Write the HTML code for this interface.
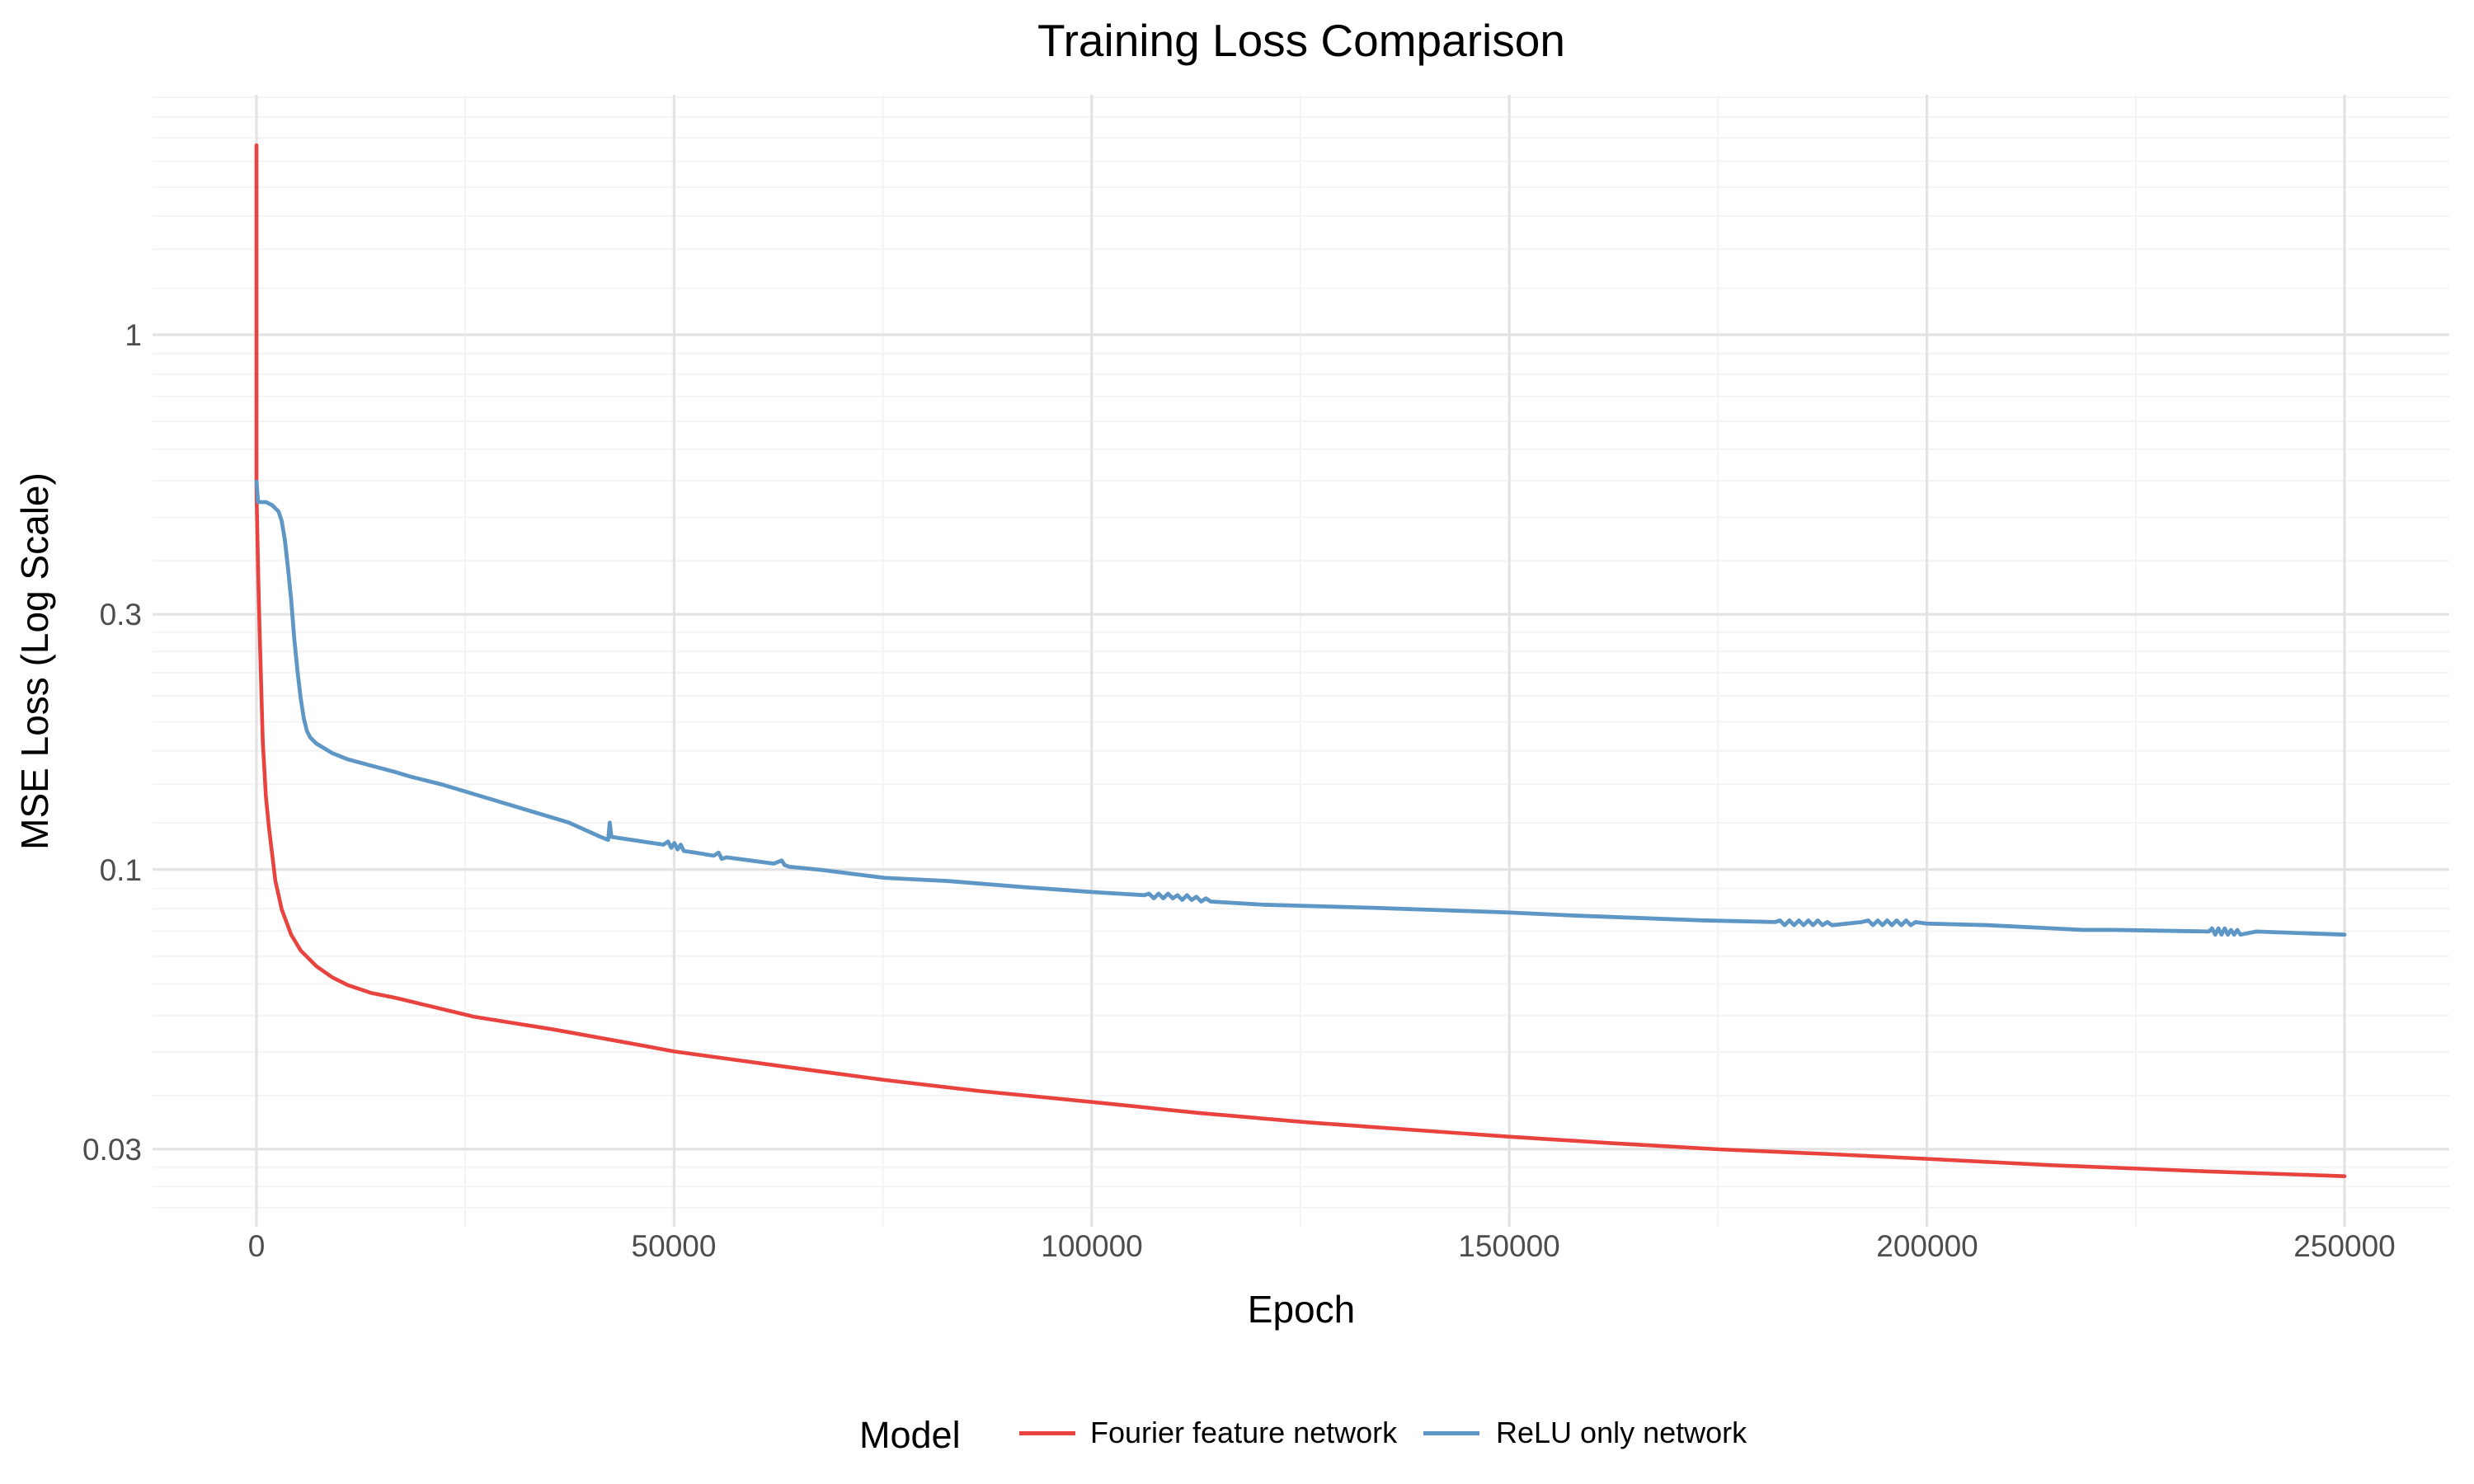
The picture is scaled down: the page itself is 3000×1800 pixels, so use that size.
<!DOCTYPE html>
<html><head><meta charset="utf-8"><style>
html,body{margin:0;padding:0;background:#fff;}
svg{display:block;font-family:"Liberation Sans",sans-serif;}
</style></head><body>
<svg id="s" width="3000" height="1800" viewBox="0 0 3000 1800" xmlns="http://www.w3.org/2000/svg">
<rect width="3000" height="1800" fill="#fff"/>
<g id="grid"></g>
<g transform="matrix(1.9124,0,0,1.915,1.2,0)" fill="none" stroke-linejoin="round" stroke-linecap="round">
<polyline stroke="#E8433F" stroke-width="2.4" points="162,92 162,310 163,360 164,400 166,470 168,505 170,525 174,558 178,576 184,592 190,602 200,612 210,619 220,624 235,629 250,632 275,638 300,644 350,652 400,661 427,666 500,676 560,684 620,691 692,698 760,705 830,711 900,716 957,720 1020,724 1090,728 1160,731 1221,734 1300,738 1400,742 1486,745"/>
<polyline stroke="#5E97C6" stroke-width="2.5" points="162,305 163,318 168,318 172,320 176,324 178,330 180,342 182,360 184,380 186,405 188,425 190,442 192,455 194,463 196,467 200,471 210,477 220,481 235,485 250,489 260,492 280,497 300,503 330,512 360,521 380,530 385,532 386,521 387,530 400,532 420,535 423,533 425,537 427,534 429,538 431,535 433,539 440,540 452,542 455,540 457,544 460,543 490,547 495,545 497,548 500,549 520,551 560,556 600,558 650,562 692,565 725,567 728,566 731,569 734,566 737,569 740,566 743,569 746,567 749,570 752,567 755,570 758,568 761,571 764,569 767,571 800,573 870,575 957,578 1000,580 1080,583 1125,584 1128,583 1131,586 1134,583 1137,586 1140,583 1143,586 1146,583 1149,586 1152,583 1155,586 1158,584 1161,586 1180,584 1184,583 1187,586 1190,583 1193,586 1196,583 1199,586 1202,583 1205,586 1208,583 1211,586 1214,584 1221,585 1260,586 1300,588 1320,589 1340,589 1400,590 1402,588 1404,592 1406,588 1408,592 1410,588 1412,592 1414,589 1416,592 1418,589 1420,592 1430,590 1486,592"/>
</g>
<text x="1578" y="68" font-size="55" text-anchor="middle" fill="#000">Training Loss Comparison</text>
<g font-size="37" fill="#4d4d4d" text-anchor="end">
<text x="172" y="419">1</text>
<text x="172" y="758">0.3</text>
<text x="172" y="1068">0.1</text>
<text x="172" y="1407">0.03</text>
</g>
<g font-size="37" fill="#4d4d4d" text-anchor="middle">
<text x="311" y="1524">0</text>
<text x="817" y="1524">50000</text>
<text x="1324" y="1524">100000</text>
<text x="1830" y="1524">150000</text>
<text x="2337" y="1524">200000</text>
<text x="2843" y="1524">250000</text>
</g>
<text x="1578" y="1604" font-size="46" text-anchor="middle" fill="#000">Epoch</text>
<text transform="translate(58,802) rotate(-90)" font-size="46" text-anchor="middle" fill="#000">MSE Loss (Log Scale)</text>
<text x="1042" y="1756" font-size="45" fill="#000">Model</text>
<rect x="1236" y="1736" width="68" height="5" fill="#E8433F"/>
<text x="1322" y="1750" font-size="36" fill="#000">Fourier feature network</text>
<rect x="1726" y="1736" width="68" height="5" fill="#5E97C6"/>
<text x="1814" y="1750" font-size="36" fill="#000">ReLU only network</text>
</svg>
<script>
(function(){
var g=document.getElementById('grid'),ns='http://www.w3.org/2000/svg';
function ln(x1,y1,x2,y2,c,w){var l=document.createElementNS(ns,'line');l.setAttribute('x1',x1);l.setAttribute('y1',y1);l.setAttribute('x2',x2);l.setAttribute('y2',y2);l.setAttribute('stroke',c);l.setAttribute('stroke-width',w);g.appendChild(l);}
var L=185,R=2970,T=115,B=1488;
function Y(v){return 406-648.7*Math.log10(v);}
function X(e){return 311+e*(2843-311)/250000;}
var majors=[0.01,0.03,0.1,0.3,1,3];
for(var i=0;i<majors.length-1;i++){var a=majors[i],b=majors[i+1];for(var k=1;k<9;k++){var v=a+(b-a)*k/9;var y=Y(v);if(y>T&&y<B)ln(L,y,R,y,'#f4f4f4',2);}}
for(var e=25000;e<=275000;e+=50000){var x=X(e);if(x<R)ln(x,T,x,B,'#f4f4f4',2);}
[0.03,0.1,0.3,1].forEach(function(v){ln(L,Y(v),R,Y(v),'#e3e3e3',3.2);});
for(var e=0;e<=250000;e+=50000){ln(X(e),T,X(e),B,'#e3e3e3',3.2);}
})();
</script>
</body></html>
